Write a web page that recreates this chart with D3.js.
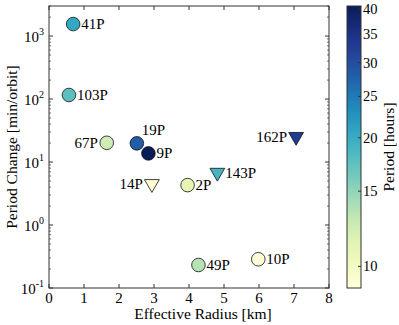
<!DOCTYPE html>
<html>
<head>
<meta charset="utf-8">
<script src="https://cdnjs.cloudflare.com/ajax/libs/d3/7.8.5/d3.min.js"></script>
<style>
  body { margin: 0; background: #fff; }
  text { font-family: "Liberation Serif", "DejaVu Serif", serif; fill: #000; }
</style>
</head>
<body>
<svg id="chart" width="399" height="325"></svg>
<script>
// ---------------- dados ----------------
var names        = ["41P", "103P", "67P", "19P", "9P", "14P", "2P", "143P", "162P", "49P", "10P"];
var radius       = [0.69, 0.57, 1.65, 2.51, 2.84, 2.94, 3.96, 4.81, 7.06, 4.27, 5.98];
var periodChange = [1550, 116, 20.2, 19.8, 13.7, 4.5, 4.3, 6.8, 25.2, 0.232, 0.286];
var periodHours  = [20.5, 17.5, 12.4, 28, 40.7, 9.0, 11, 19, 32.9, 13.5, 8.95];
var markerType   = ["o", "o", "o", "o", "o", "v", "o", "v", "v", "o", "o"];
var labelSide    = ["right", "right", "left", "above", "right", "left", "right", "right", "left", "right", "right"];

var xTicks  = [0, 1, 2, 3, 4, 5, 6, 7, 8];
var yTicks  = [0.1, 1, 10, 100, 1000];
var cbTicks = [10, 15, 20, 25, 30, 35, 40];

// ---------------- layout ----------------
var svg = d3.select("#chart");
var pLeft = 49, pRight = 329, pTop = 6, pBottom = 288;
var cbLeft = 347, cbRight = 361;

var xScale = d3.scaleLinear().domain([0, 8]).range([pLeft, pRight]);
var yScale = d3.scaleLog().domain([0.1, 3000]).range([pBottom, pTop]);
var cScale = d3.scaleLog().domain([8.9, 40.7]).range([pBottom, pTop]);
var colorT = d3.scaleLog().domain([8.9, 40.7]).range([0, 1]).clamp(true);
function cor(p) { return d3.interpolateYlGnBu(colorT(p)); }

var axisColor = "#333";

//------------------------------- eixos
function desenhaEixos() {
  var g = svg.append("g");

  // moldura
  g.append("rect")
    .attr("x", pLeft).attr("y", pTop)
    .attr("width", pRight - pLeft).attr("height", pBottom - pTop)
    .attr("fill", "none").attr("stroke", axisColor).attr("stroke-width", 1);

  // ticks x (baixo e cima, para dentro)
  xTicks.forEach(function(t) {
    var x = xScale(t);
    g.append("line").attr("x1", x).attr("x2", x).attr("y1", pBottom).attr("y2", pBottom - 4)
      .attr("stroke", axisColor);
    g.append("line").attr("x1", x).attr("x2", x).attr("y1", pTop).attr("y2", pTop + 4)
      .attr("stroke", axisColor);
    g.append("text").attr("x", x).attr("y", pBottom + 15)
      .attr("text-anchor", "middle").attr("font-size", "15px").text(t);
  });

  // ticks y maiores
  yTicks.forEach(function(t) {
    var y = yScale(t);
    g.append("line").attr("x1", pLeft).attr("x2", pLeft + 4).attr("y1", y).attr("y2", y).attr("stroke", axisColor);
    g.append("line").attr("x1", pRight).attr("x2", pRight - 4).attr("y1", y).attr("y2", y).attr("stroke", axisColor);
    var exp = Math.round(Math.log10(t));
    var tx = g.append("text").attr("x", pLeft - 5).attr("y", y + 6)
      .attr("text-anchor", "end").attr("font-size", "15px");
    tx.append("tspan").text("10");
    tx.append("tspan").attr("font-size", "10px").attr("dy", -7).text(exp);
  });

  // ticks y menores
  for (var e = -1; e < 4; e++) {
    for (var m = 2; m < 10; m++) {
      var v = m * Math.pow(10, e);
      if (v > 3000) continue;
      var y = yScale(v);
      g.append("line").attr("x1", pLeft).attr("x2", pLeft + 2).attr("y1", y).attr("y2", y).attr("stroke", axisColor).attr("stroke-width", 0.7);
      g.append("line").attr("x1", pRight).attr("x2", pRight - 2).attr("y1", y).attr("y2", y).attr("stroke", axisColor).attr("stroke-width", 0.7);
    }
  }

  // rotulos dos eixos
  g.append("text").attr("x", (pLeft + pRight) / 2 + 14).attr("y", 319)
    .attr("text-anchor", "middle").attr("font-size", "15.5px").text("Effective Radius [km]");
  g.append("text").attr("transform", "translate(17," + ((pTop + pBottom) / 2) + ") rotate(-90)")
    .attr("text-anchor", "middle").attr("font-size", "15.5px").text("Period Change [min/orbit]");
}

//------------------------------- pontos
function desenhaPontos() {
  var dados = names.map(function(n, i) {
    return { nome: n, r: radius[i], dp: periodChange[i], p: periodHours[i], m: markerType[i], lado: labelSide[i] };
  });

  var g = svg.append("g");
  var tri = d3.symbol().type(d3.symbolTriangle).size(95);
  var circ = d3.symbol().type(d3.symbolCircle).size(Math.PI * 6.8 * 6.8);

  g.selectAll(".ponto")
    .data(dados)
    .enter()
    .append("path")
    .attr("class", "ponto")
    .attr("d", function(d) { return d.m === "v" ? tri() : circ(); })
    .attr("transform", function(d) {
      var s = "translate(" + xScale(d.r) + "," + yScale(d.dp) + ")";
      return d.m === "v" ? s + " rotate(180)" : s;
    })
    .attr("fill", function(d) { return cor(d.p); })
    .attr("stroke", "#111")
    .attr("stroke-width", 0.8);

  g.selectAll(".rotulo")
    .data(dados)
    .enter()
    .append("text")
    .attr("class", "rotulo")
    .attr("font-size", "15px")
    .attr("x", function(d) {
      var x = xScale(d.r);
      if (d.lado === "left") return x - 9;
      if (d.lado === "above") return x + 5;
      return x + 8;
    })
    .attr("y", function(d) {
      var y = yScale(d.dp);
      if (d.lado === "above") return y - 8;
      return y + 5;
    })
    .attr("text-anchor", function(d) { return d.lado === "left" ? "end" : "start"; })
    .text(function(d) { return d.nome; });
}

//------------------------------- barra de cores
function desenhaBarraCor() {
  var g = svg.append("g");
  for (var py = pTop; py < pBottom; py++) {
    var v = cScale.invert(py + 0.5);
    g.append("rect").attr("x", cbLeft).attr("y", py)
      .attr("width", cbRight - cbLeft).attr("height", 1.2)
      .attr("fill", cor(v));
  }
  g.append("rect").attr("x", cbLeft).attr("y", pTop)
    .attr("width", cbRight - cbLeft).attr("height", pBottom - pTop)
    .attr("fill", "none").attr("stroke", axisColor).attr("stroke-width", 1);

  cbTicks.forEach(function(t) {
    var y = cScale(t);
    g.append("line").attr("x1", cbRight).attr("x2", cbRight - 3).attr("y1", y).attr("y2", y).attr("stroke", axisColor);
    g.append("text").attr("x", cbRight + 2).attr("y", y + 5).attr("font-size", "14.5px").text(t);
  });

  g.append("text").attr("transform", "translate(394," + ((pTop + pBottom) / 2) + ") rotate(-90)")
    .attr("text-anchor", "middle").attr("font-size", "15.5px").text("Period [hours]");
}

desenhaEixos();
desenhaPontos();
desenhaBarraCor();
</script>
</body>
</html>
